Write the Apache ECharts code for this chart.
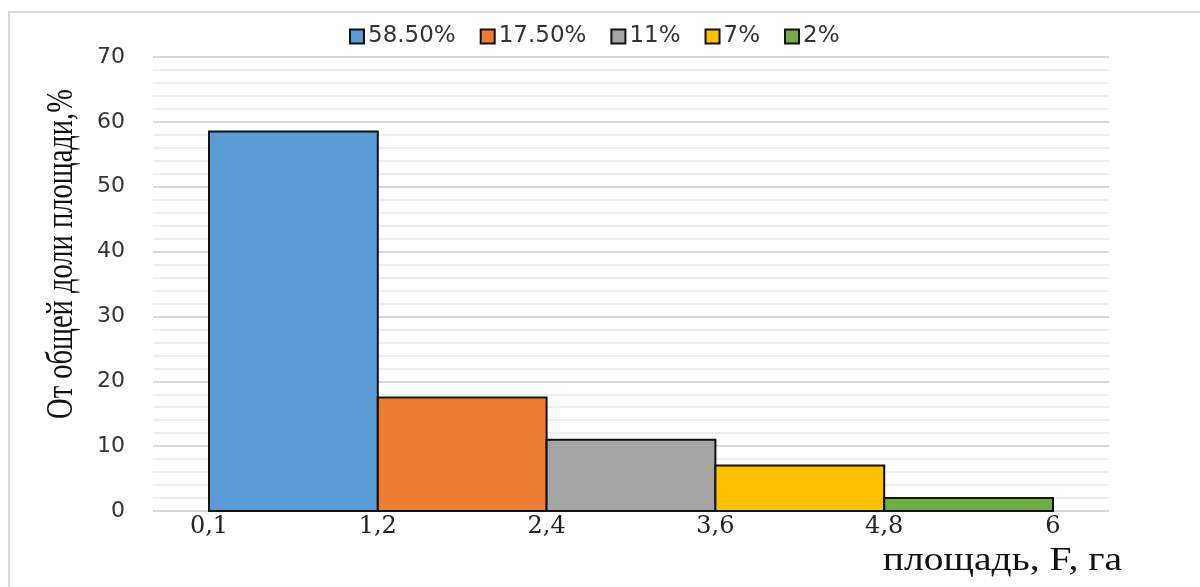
<!DOCTYPE html>
<html>
<head>
<meta charset="utf-8">
<script src="https://cdn.jsdelivr.net/npm/echarts@6/dist/echarts.min.js"></script>
<style>
  html, body { margin: 0; padding: 0; background: #fff; }
  #chart { width: 1200px; height: 587px; }
</style>
</head>
<body>
<div id="chart"></div>
<script>
// Area-share histogram: share of total area per plot-size interval
const edgeLabels = ['0,1', '1,2', '2,4', '3,6', '4,8', '6'];
const shareValues = [58.5, 17.5, 11, 7, 2];
const legendNames = ['58.50%', '17.50%', '11%', '7%', '2%'];
const barColors = ['#5B9BD5', '#ED7D31', '#A5A5A5', '#FFC000', '#70AD47'];
const yTicks = { min: 0, max: 70, interval: 10 };

const chart = echarts.init(document.getElementById('chart'));

// One rectangle per interval, spanning from edge i to edge i+1
function renderBin(params, api) {
  const i = api.value(0);
  const v = api.value(1);
  const topLeft = api.coord([i, v]);
  const bottomRight = api.coord([i + 1, 0]);
  return {
    type: 'rect',
    shape: {
      x: topLeft[0],
      y: topLeft[1],
      width: bottomRight[0] - topLeft[0],
      height: bottomRight[1] - topLeft[1]
    },
    style: {
      fill: api.visual('color'),
      stroke: '#111',
      lineWidth: 2
    }
  };
}

const series = shareValues.map((v, i) => ({
  name: legendNames[i],
  type: 'custom',
  xAxisIndex: 1,
  yAxisIndex: 1,
  renderItem: renderBin,
  itemStyle: { color: barColors[i], borderColor: '#111', borderWidth: 2 },
  data: [[i, v]],
  z: 3
}));

chart.setOption({
  animation: false,
  backgroundColor: '#fff',
  legend: {
    top: 20,
    left: 344,
    itemWidth: 14,
    itemHeight: 14,
    itemGap: 24,
    icon: 'rect',
    itemStyle: { borderColor: '#111', borderWidth: 2 },
    textStyle: { fontFamily: 'DejaVu Sans', fontSize: 23, color: '#333', padding: [0, 0, 0, -1] },
    data: legendNames
  },
  grid: [
    { left: 153, right: 91, top: 57, bottom: 76 },
    { left: 209, right: 147, top: 57, bottom: 76 }
  ],
  xAxis: [
    {
      gridIndex: 0, type: 'value', min: 0, max: 1, show: false
    },
    {
      gridIndex: 1, type: 'value', min: 0, max: 5, interval: 1,
      axisLine: { show: false },
      axisTick: { show: false },
      splitLine: { show: false },
      axisLabel: {
        margin: 4,
        fontFamily: 'DejaVu Serif',
        fontSize: 24,
        color: '#222',
        formatter: (val) => edgeLabels[Math.round(val)]
      }
    }
  ],
  yAxis: [
    {
      gridIndex: 0, type: 'value',
      min: yTicks.min, max: yTicks.max, interval: yTicks.interval,
      axisLine: { show: false },
      axisTick: { show: false },
      axisLabel: {
        margin: 28,
        fontFamily: 'DejaVu Sans',
        fontSize: 22,
        color: '#333'
      },
      splitLine: { show: true, lineStyle: { color: '#d9d9d9', width: 2 } },
      minorTick: { show: false, splitNumber: 5 },
      minorSplitLine: { show: true, lineStyle: { color: '#efefef', width: 2 } }
    },
    {
      gridIndex: 1, type: 'value',
      min: yTicks.min, max: yTicks.max, interval: yTicks.interval,
      show: false
    }
  ],
  graphic: [
    {
      type: 'rect',
      shape: { x: 9, y: 12, width: 1300, height: 700 },
      style: { fill: 'none', stroke: '#d9d9d9', lineWidth: 2 },
      silent: true,
      z: -1
    },
    {
      type: 'text',
      x: 62,
      y: 254,
      rotation: Math.PI / 2,
      scaleY: 1.3,
      style: {
        text: 'От общей доли площади,%',
        font: '28.5px "Liberation Serif"',
        fill: '#111',
        align: 'center',
        verticalAlign: 'middle'
      }
    },
    {
      type: 'text',
      x: 1122,
      y: 561,
      scaleX: 1.2,
      style: {
        text: 'площадь, F, га',
        font: '33px "Liberation Serif"',
        fill: '#111',
        align: 'right',
        verticalAlign: 'middle'
      }
    }
  ],
  series: series
});
</script>
</body>
</html>
